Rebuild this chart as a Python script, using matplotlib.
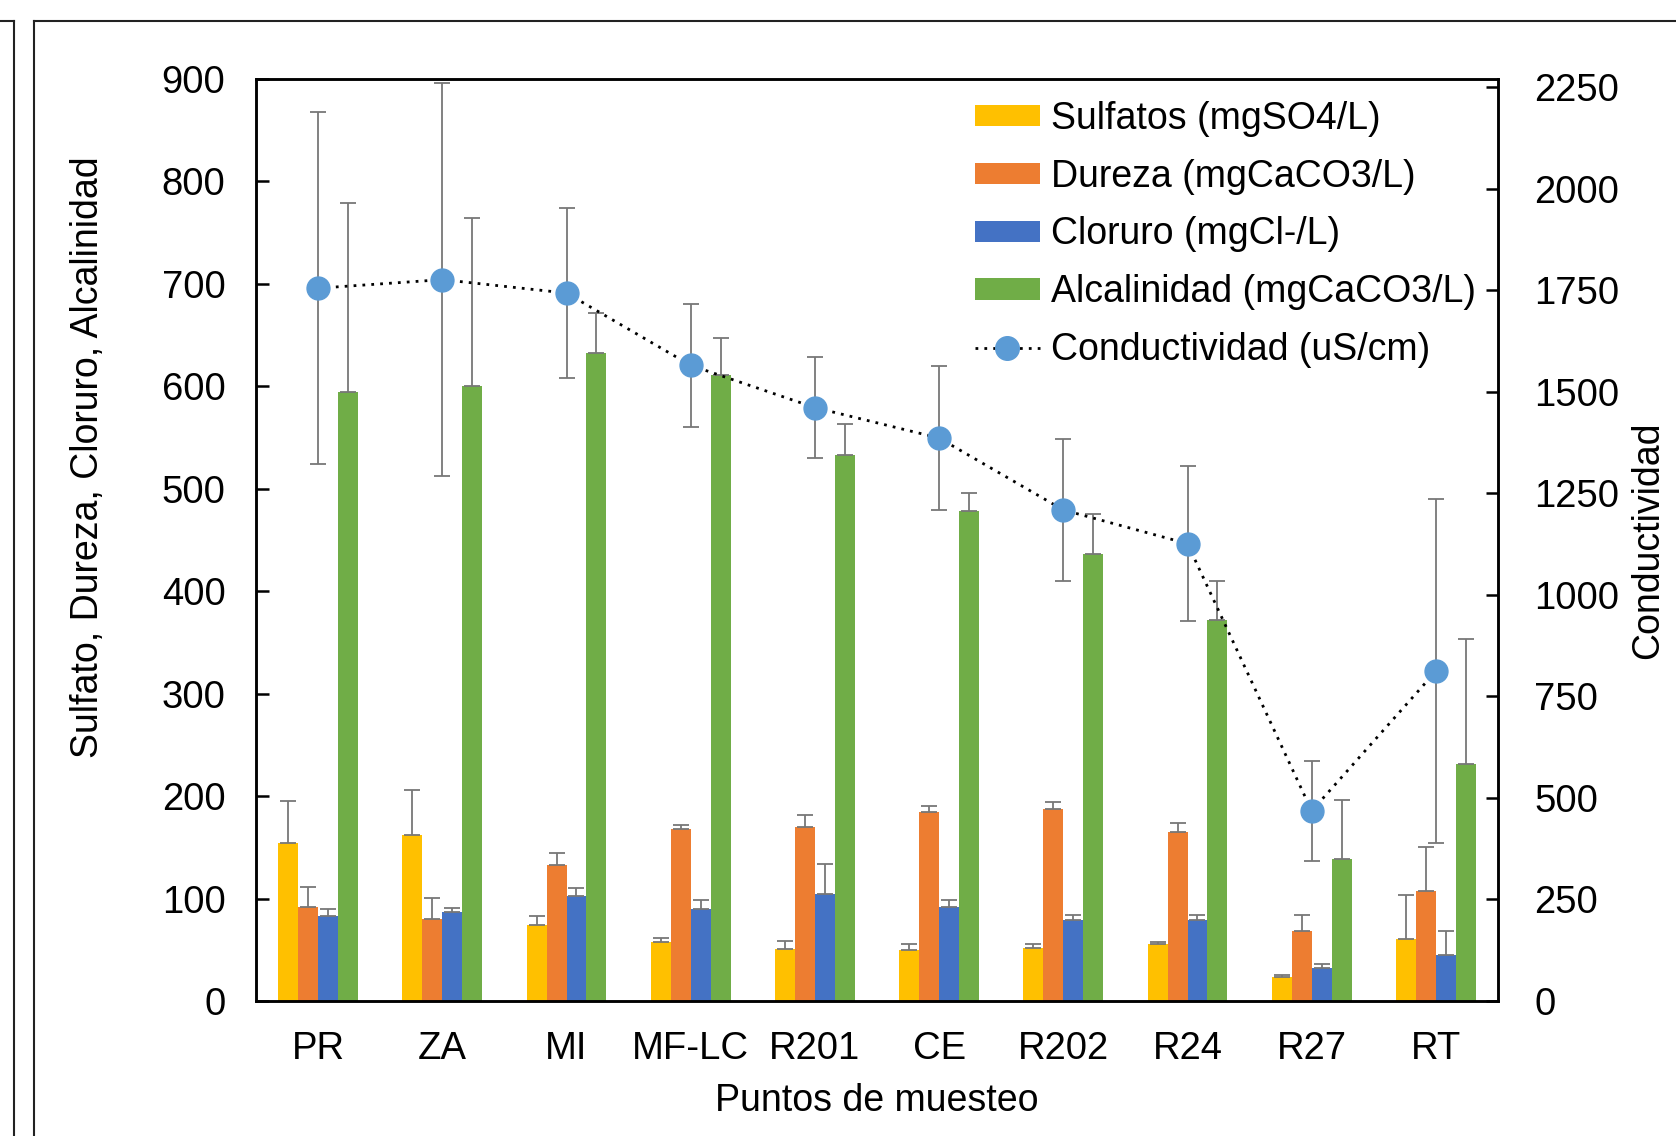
import matplotlib
matplotlib.use("Agg")
import matplotlib.pyplot as plt
import numpy as np
from matplotlib.lines import Line2D
from matplotlib.patches import Patch

plt.rcParams['font.family'] = ['Liberation Sans', 'DejaVu Sans']

categories = ["PR", "ZA", "MI", "MF-LC", "R201", "CE", "R202", "R24", "R27", "RT"]
sulfatos = [154, 162, 74, 57.6, 50.8, 50, 51.4, 56, 23.4, 60.2]
sulfatos_err = [41, 44, 8.5, 4, 8, 5.5, 4, 1.6, 2, 43.6]
dureza = [91.5, 80.4, 133, 168, 170, 184.5, 187, 165, 68, 107.7]
dureza_err = [19.5, 20.5, 11, 4, 12, 5.5, 7, 9, 16, 43]
cloruro = [83, 87, 102.5, 90, 104, 91.5, 78.8, 78.8, 32.2, 45.2]
cloruro_err = [6.5, 4, 7.5, 9, 30, 7, 5.5, 5.5, 4, 23.4]
alcalinidad = [594.8, 600.4, 632.6, 611, 532.7, 478, 436.6, 372, 138.3, 231.7]
alcalinidad_err = [184, 164, 39, 36, 30.6, 18, 39, 38, 58, 122]
conductividad = [1755, 1776, 1743, 1565, 1461, 1386, 1209, 1126, 468, 812]
conductividad_err = [434, 484, 209, 152, 125, 178, 174, 190, 124, 424]

series_labels = ["Sulfatos (mgSO4/L)", "Dureza (mgCaCO3/L)", "Cloruro (mgCl-/L)",
                 "Alcalinidad (mgCaCO3/L)"]
cond_label = "Conductividad (uS/cm)"
colors = ["#FFC000", "#ED7D31", "#4472C4", "#70AD47"]
marker_color = "#5B9BD5"
err_color = "#777777"

W, H = 1676, 1136
fig = plt.figure(figsize=(W / 100, H / 100), dpi=100)
ax = fig.add_axes([256 / W, 1 - 1001 / H, 1242 / W, 922 / H])

x = np.arange(len(categories))
bw = 0.161
values = [sulfatos, dureza, cloruro, alcalinidad]
errs = [sulfatos_err, dureza_err, cloruro_err, alcalinidad_err]
for i, (v, e, c) in enumerate(zip(values, errs, colors)):
    pos = x + (i - 1.5) * bw
    ax.bar(pos, v, width=bw, color=c, edgecolor='none', zorder=2)
    ax.errorbar(pos, v, yerr=[np.zeros(len(e)), e], fmt='none', ecolor=err_color,
                elinewidth=1.3, capsize=5.5, capthick=1.3, zorder=3)

fs_tick = 27.5
fs_lab = 27
ax.set_xlim(-0.5, len(categories) - 0.5)
ax.set_ylim(0, 900)
ax.set_yticks(np.arange(0, 901, 100))
ax.set_xticks(x)
ax.set_xticklabels(categories)
ax.tick_params(axis='x', length=0, pad=21.5, labelsize=fs_tick)
ax.tick_params(axis='y', direction='in', length=9, width=1.8, pad=22, labelsize=fs_tick)
for s in ax.spines.values():
    s.set_linewidth(1.8)
ax.set_xlabel("Puntos de muesteo", fontsize=fs_lab, labelpad=11.5)
ax.set_ylabel("Sulfato, Dureza, Cloruro, Alcalinidad", fontsize=fs_lab)
ax.yaxis.set_label_coords(-0.121, 0.59)

ax2 = ax.twinx()
ax2.set_ylim(0, 2270)
ax2.set_yticks(np.arange(0, 2251, 250))
ax2.tick_params(axis='y', direction='in', length=9, width=1.8, pad=26, labelsize=fs_tick)
ax2.errorbar(x, conductividad, yerr=conductividad_err, fmt='none', ecolor=err_color,
             elinewidth=1.3, capsize=5.5, capthick=1.3, zorder=3)
ax2.plot(x, conductividad, color='black', linestyle=(0, (1, 2.2)), linewidth=2,
         marker='o', markersize=16.5, markerfacecolor=marker_color,
         markeredgecolor=marker_color, zorder=4)
ax2.set_ylabel("Conductividad", fontsize=fs_lab)
ax2.yaxis.set_label_coords(1.106, 0.5)
for s in ax2.spines.values():
    s.set_linewidth(1.8)

handles = [Patch(facecolor=c, edgecolor='none') for c in colors]
handles.append(Line2D([], [], color='black', linestyle=(0, (1, 2.2)), linewidth=2,
                      marker='o', markersize=17, markerfacecolor=marker_color,
                      markeredgecolor=marker_color))
ax2.legend(handles, series_labels + [cond_label], loc='upper left',
           bbox_to_anchor=((975 - 256) / 1242, (1001 - 101) / 922),
           frameon=False, fontsize=fs_lab, borderpad=0, borderaxespad=0,
           handlelength=1.72, handleheight=0.5, handletextpad=0.3,
           labelspacing=0.58)

# outer frame lines
lc = '#222222'
fig.add_artist(Line2D([13.5 / W, 13.5 / W], [0, 1 - 21 / H], color=lc, lw=1.5))
fig.add_artist(Line2D([0, 13.5 / W], [1 - 21 / H, 1 - 21 / H], color=lc, lw=1.5))
fig.add_artist(Line2D([33.5 / W, 33.5 / W], [0, 1 - 21 / H], color=lc, lw=1.5))
fig.add_artist(Line2D([33.5 / W, 1], [1 - 21 / H, 1 - 21 / H], color=lc, lw=1.5))

fig.savefig("out.png", dpi=100)
